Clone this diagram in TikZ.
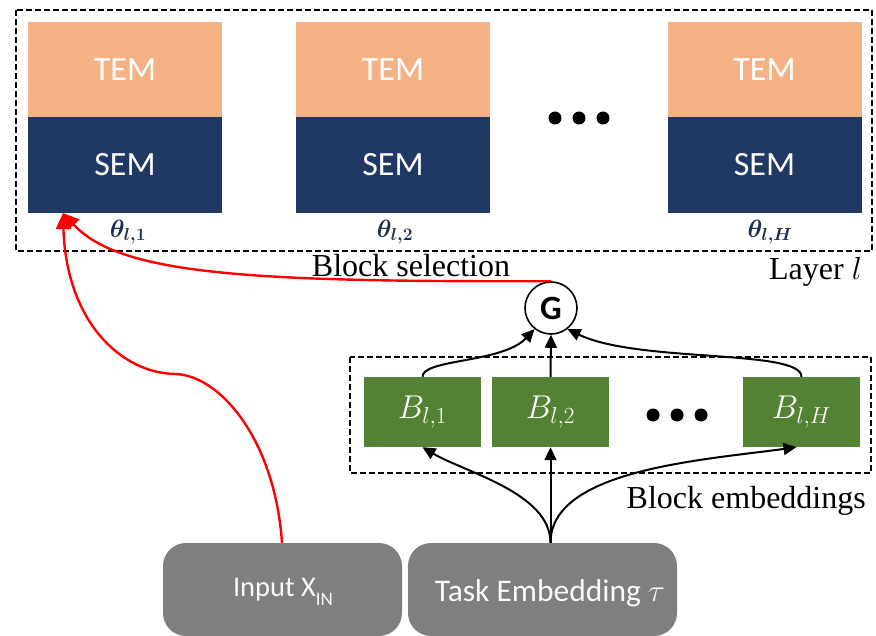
\RequirePackage{fix-cm}
\documentclass[tikz,border=0pt]{standalone}
\usepackage{fontspec}
\setmainfont{Liberation Serif}
\newfontfamily\calibri{Carlito}
\usetikzlibrary{arrows.meta}
\definecolor{temc}{HTML}{F4B183}
\definecolor{semc}{HTML}{203864}
\definecolor{grn}{HTML}{548235}
\definecolor{gry}{HTML}{7F7F7F}
\definecolor{thc}{HTML}{1F2F4F}
\definecolor{redc}{HTML}{FF0000}
\tikzset{
  temb/.style={fill=temc,draw=none,minimum width=194pt,minimum height=95pt,inner sep=0pt,text=white,font=\calibri\fontsize{34}{36}\selectfont},
  semb/.style={fill=semc,draw=none,minimum width=194pt,minimum height=96pt,inner sep=0pt,text=white,font=\calibri\fontsize{34}{36}\selectfont},
  bemb/.style={fill=grn,draw=none,minimum width=117pt,minimum height=70pt,inner sep=0pt,text=white,font=\fontsize{33}{35}\selectfont},
  thlab/.style={text=thc,inner sep=0pt,font=\fontsize{25}{27}\selectfont\boldmath},
  greybox/.style={fill=gry,draw=none,rounded corners=23pt,minimum height=93pt,inner sep=0pt},
  greytext/.style={text=white!95!gray,inner sep=0pt},
  dashbox/.style={draw=black,line width=1.8pt,dash pattern=on 6pt off 3pt},
  dotc/.style={circle,fill=black,inner sep=0pt,minimum size=13pt},
  serif/.style={inner sep=0pt,font=\fontsize{32}{34}\selectfont},
  blk/.style={draw=black,line width=2pt,-{Triangle[length=13pt,width=12pt]}},
  redarr/.style={draw=redc,line width=2.4pt,-{Triangle[length=16pt,width=15pt]}},
}
\begin{document}
\begin{tikzpicture}[x=1pt,y=-1pt]
\useasboundingbox (0,0) rectangle (876,636);
\clip (0,0) rectangle (876,636);
% layer box
\draw[dashbox] (16,10) rectangle (872,251);
% TEM / SEM blocks
\node[temb] (t1) at (125,69.5) {TEM};
\node[semb] (s1) at (125,165) {SEM};
\node[temb] (t2) at (393,69.5) {TEM};
\node[semb] (s2) at (393,165) {SEM};
\node[temb] (t3) at (764.5,69.5) {TEM};
\node[semb] (s3) at (764.5,165) {SEM};
\node[dotc] (d1) at (555,118) {};
\node[dotc] (d2) at (579,118) {};
\node[dotc] (d3) at (603,118) {};
% theta labels
\node[thlab] (th1) at (128,232) {$\theta_{l,1}$};
\node[thlab] (th2) at (395,232) {$\theta_{l,2}$};
\node[thlab] (th3) at (770,232) {$\theta_{l,H}$};
\node[serif,anchor=base] (bsel) at (411,277) {Block selection};
\node[serif,anchor=base east] (lay) at (862,280) {Layer $l$};
% block embeddings
\draw[dashbox] (350,357) rectangle (871,473);
\node[bemb] (b1) at (422.5,412) {$B_{l,1}$};
\node[bemb] (b2) at (550.5,412) {$B_{l,2}$};
\node[bemb] (bh) at (801.5,412) {$B_{l,H}$};
\node[dotc] (e1) at (653,415) {};
\node[dotc] (e2) at (677,415) {};
\node[dotc] (e3) at (701,415) {};
\node[serif,anchor=base east] (bemblab) at (866,508) {Block embeddings};
% gate
\node[circle,draw=black,fill=white,line width=1.6pt,minimum size=52pt,inner sep=0pt,font=\calibri\bfseries\fontsize{34}{36}\selectfont] (G) at (551,308) {G};
% bottom boxes
\node[greybox,minimum width=239pt] (inp) at (282.5,589.5) {};
\node[greybox,minimum width=269pt] (task) at (542.5,589.5) {};
\node[greytext,font=\calibri\fontsize{28.5}{30}\selectfont] (inplab) at (283,592) {Input X\raisebox{-0.3em}{\fontsize{19}{20}\selectfont IN}};
\node[greytext,font=\calibri\fontsize{31.5}{33}\selectfont] (tasklab) at (550,593) {Task Embedding $\tau$};
% black arrows to G
\draw[blk] (b1.north) .. controls +(0,-18) and +(-32,34) .. (G.232);
\draw[blk] (b2.north) -- (G.south);
\draw[blk] (bh.north) .. controls +(0,-28) and +(70,34) .. (G.308);
% black arrows from task
\coordinate (src) at (b2.south |- task.north);
\draw[blk] (src) -- (b2.south);
\draw[blk] (src) .. controls +(0,-50) and +(42,25) .. (b1.south);
\draw[blk] (src) .. controls +(0,-73) and +(-95,13) .. ([xshift=-5pt]bh.south);
% red arrows
\coordinate (tip) at (63,213);
\draw[redarr] (G.north) .. controls (250,282) and (120,275) .. (tip);
\draw[redarr] (inp.north -| 282,0) .. controls (275,440) and (220,375) .. (175,374) .. controls (120,373) and (66,320) .. (tip);
\end{tikzpicture}
\end{document}
